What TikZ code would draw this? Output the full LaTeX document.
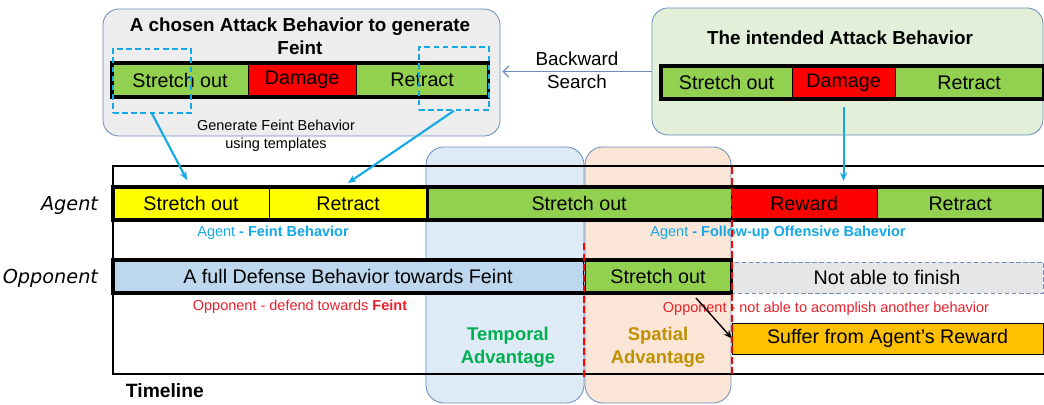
\documentclass[tikz,border=0pt]{standalone}
\usepackage{fontspec}
\setmainfont{Liberation Sans}
\newfontfamily\lblfont{DejaVu Sans}
\usetikzlibrary{arrows.meta}

\definecolor{barGreen}{HTML}{92D050}
\definecolor{barRed}{HTML}{FF0000}
\definecolor{barYellow}{HTML}{FFFF00}
\definecolor{defBlue}{HTML}{BDD7EE}
\definecolor{notGray}{HTML}{E7E6E6}
\definecolor{sufOrange}{HTML}{FFC000}
\definecolor{edgeBlue}{HTML}{6C8EBF}
\definecolor{noteBlue}{HTML}{14A8E6}
\definecolor{noteRed}{HTML}{E8202A}
\definecolor{tempBlue}{HTML}{DEEBF7}
\definecolor{spatPeach}{HTML}{FBE5D6}
\definecolor{boxGray}{HTML}{EDEDED}
\definecolor{boxGreen}{HTML}{E2F0D9}
\definecolor{tempText}{HTML}{00B050}
\definecolor{spatText}{HTML}{BF9000}

\tikzset{
  seg/.style={draw=black,line width=0.6pt,inner sep=0pt,outer sep=0pt,minimum height=0.825cm,font=\fontsize{14}{16}\selectfont},
  panel/.style={draw=edgeBlue,rounded corners=0.4cm,line width=0.6pt,inner sep=0pt},
  note/.style={font=\fontsize{10.3}{12.8}\selectfont,inner sep=0pt},
  title/.style={font=\fontsize{13.4}{16.4}\selectfont\bfseries,align=center},
  tmpl/.style={draw=noteBlue,line width=1pt,dash pattern=on 4pt off 2.5pt,inner sep=0pt},
  feed/.style={draw=noteBlue,line width=1.5pt,-{Stealth[length=6pt,width=5pt]}},
  outline/.style={line width=2.2pt},
  side/.style={anchor=east,font=\lblfont\itshape\fontsize{13.7}{16}\selectfont},
}

\begin{document}
\begin{tikzpicture}[x=0.025cm,y=-0.025cm]

  \useasboundingbox (0,0) rectangle (1044,405);

  % the chosen attack behavior
  \node [panel,fill=boxGray,minimum width=9.925cm,minimum height=3.175cm] at (301.5,72.5) (feintbox) {};
  \node [title] at (300,36) (feintTitle) {A chosen Attack Behavior to generate\\Feint};
  \node [seg,fill=barGreen,minimum width=3.4cm,minimum height=0.85cm,anchor=west] at (112,80) (fbSO) {Stretch out};
  \node [seg,fill=barRed,minimum width=2.7cm,minimum height=0.85cm,anchor=west] at (fbSO.east) (fbDM) {Damage};
  \node [seg,fill=barGreen,minimum width=3.3cm,minimum height=0.85cm,anchor=west] at (fbDM.east) (fbRT) {Retract};
  \draw [outline] (fbSO.north west) rectangle (fbRT.south east);
  \node [tmpl,minimum width=1.95cm,minimum height=1.6cm] at (152,81) (tplL) {};
  \node [tmpl,minimum width=1.75cm,minimum height=1.575cm] at (454,78.5) (tplR) {};
  \node [note,align=center] at (276,136) (genNote) {Generate Feint Behavior\\using templates};

  % the intended attack behavior
  \node [panel,fill=boxGreen,minimum width=9.775cm,minimum height=3.175cm] at (847.5,71.5) (intendbox) {};
  \node [title] at (840,38) (intendTitle) {The intended Attack Behavior};
  \node [seg,fill=barGreen,minimum width=3.275cm,anchor=west] at (661,82.5) (ibSO) {Stretch out};
  \node [seg,fill=barRed,minimum width=2.575cm,anchor=west] at (ibSO.east) (ibDM) {Damage};
  \node [seg,fill=barGreen,minimum width=3.7cm,anchor=west] at (ibDM.east) (ibRT) {Retract};
  \draw [outline] (ibSO.north west) rectangle (ibRT.south east);

  \node [font=\fontsize{13.4}{16.5}\selectfont,align=center] at (577,70) (bsearch) {Backward\\Search};
  \draw [edgeBlue,line width=0.8pt,-{Straight Barb[length=4pt,width=8pt]},shorten >=0.05cm] (intendbox.west) -- (intendbox.west -| feintbox.east);

  % advantage windows
  \node [panel,fill=tempBlue,rounded corners=0.45cm,minimum width=3.95cm,minimum height=6.4cm] at (505,275) (tempbox) {};
  \node [panel,fill=spatPeach,rounded corners=0.45cm,minimum width=3.65cm,minimum height=6.4cm] at (658,275) (spatbox) {};
  \node [title,text=tempText,font=\fontsize{13.1}{16.4}\selectfont\bfseries] at (508,347.5) (tempLbl) {Temporal\\Advantage};
  \node [title,text=spatText,font=\fontsize{13.1}{16.4}\selectfont\bfseries] at (658,347.5) (spatLbl) {Spatial\\Advantage};

  % timeline frame
  \draw [line width=1.4pt] (1044,166) -- (113,166) -- (113,374) -- (1044,374);
  \node [anchor=west,font=\fontsize{13.7}{16}\selectfont\bfseries] at (121,391) (timeline) {Timeline};

  % agent row
  \node [side] at (103,205) (agent) {Agent};
  \node [seg,fill=barYellow,minimum width=3.9cm,anchor=west] at (113,203.5) (agSO) {Stretch out};
  \node [seg,fill=barYellow,minimum width=3.95cm,anchor=west] at (agSO.east) (agRT) {Retract};
  \node [seg,fill=barGreen,minimum width=7.6cm,anchor=west] at (agRT.east) (agFO) {Stretch out};
  \node [seg,fill=barRed,minimum width=3.65cm,anchor=west] at (agFO.east) (agRW) {Reward};
  \node [seg,fill=barGreen,minimum width=4.15cm,anchor=west] at (agRW.east) (agRT2) {Retract};
  \draw [outline] (agSO.north west) rectangle (agRT.south east);
  \draw [outline] (agFO.north west) rectangle (agRT2.south east);
  \node [note,text=noteBlue] at (273,233) (agFeint) {Agent \textbf{- Feint Behavior}};
  \node [note,text=noteBlue] at (778,233) (agFollow) {Agent \textbf{- Follow-up Offensive Bahevior}};

  % opponent row
  \node [side] at (103,278) (opponent) {Opponent};
  \node [seg,fill=defBlue,minimum width=11.75cm,anchor=west] at (113,276.5) (opDF) {A full Defense Behavior towards Feint};
  \node [seg,fill=barGreen,minimum width=3.65cm,anchor=west] at (585,276.5) (opSO) {Stretch out};
  \node [seg,fill=notGray,draw=edgeBlue,dash pattern=on 3pt off 2pt,minimum width=7.8cm,minimum height=0.775cm,anchor=west] at (731,277.5) (opNA) {Not able to finish};
  \draw [outline] (opDF.north west) rectangle (opSO.south east);
  \node [note,text=noteRed] at (300,307) (opDefend) {Opponent - defend towards \textbf{Feint}};
  \node [note,text=noteRed] at (826,309) (opNot) {Opponent - not able to acomplish another behavior};
  \node [seg,fill=sufOrange,minimum width=7.775cm,minimum height=0.775cm,anchor=west] at (732,338.5) (suffer) {Suffer from Agent’s Reward};

  % arrows
  \coordinate (feedL) at (187,180);
  \coordinate (feedR) at (348,183);
  \draw [feed] (tplL.south) -- (feedL);
  \draw [feed] (tplR.south) -- (feedR);
  \draw [feed,shorten <=0.2cm,shorten >=0.15cm] (ibDM.south) -- (ibDM.south |- agRW.north);
  \coordinate (hit) at (696,298);
  \draw [line width=1pt,-{Stealth[length=6pt,width=5pt]}] (hit) -- (suffer.west);

  % moments of the switch
  \draw [red,line width=1.4pt,dash pattern=on 5pt off 2.5pt] (584,243) -- (584,378);
  \draw [red,line width=1.4pt,dash pattern=on 5pt off 2.5pt] (732,167) -- (732,374);

\end{tikzpicture}
\end{document}
